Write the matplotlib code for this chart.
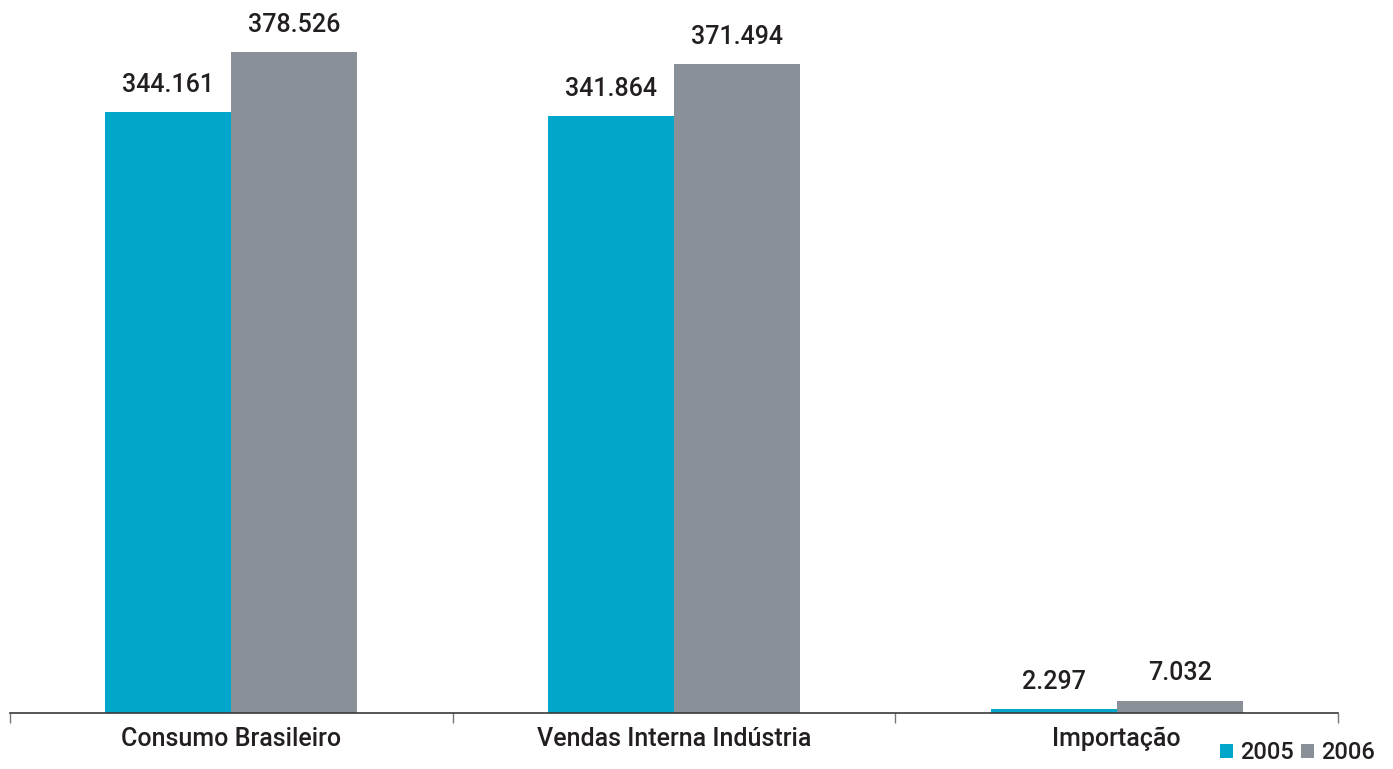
import numpy as np
import matplotlib.pyplot as plt

plt.rcParams['font.family'] = ['Roboto', 'Liberation Sans', 'DejaVu Sans']
plt.rcParams['font.weight'] = 'medium'

categorias = ["Consumo Brasileiro", "Vendas Interna Indústria", "Importação"]
anos = ["2005", "2006"]
valores_2005 = [344.161, 341.864, 2.297]
valores_2006 = [378.526, 371.494, 7.032]
rotulos_2005 = ["344.161", "341.864", "2.297"]
rotulos_2006 = ["378.526", "371.494", "7.032"]

cor_2005 = "#00a7cb"
cor_2006 = "#899097"
cor_texto = "#231f20"

fig = plt.figure(figsize=(13.93, 7.69), dpi=100)
ax = fig.add_axes([10 / 1393, 56 / 769, 1328 / 1393, 713 / 769])

x = np.arange(len(categorias))
largura = 0.285
b1 = ax.bar(x - largura / 2, valores_2005, largura, color=cor_2005, label=anos[0])
b2 = ax.bar(x + largura / 2, valores_2006, largura, color=cor_2006, label=anos[1])

# rótulos de valor acima das barras
for barras, rotulos in [(b1, rotulos_2005), (b2, rotulos_2006)]:
    for b, r in zip(barras, rotulos):
        ax.annotate(r, (b.get_x() + b.get_width() / 2, b.get_height()),
                    xytext=(0, 11), textcoords="offset points",
                    ha="center", va="bottom", fontsize=18, color=cor_texto)

ax.set_xlim(-0.5, len(categorias) - 0.5)
ax.set_ylim(0, 408.3)

for s in ["top", "right", "left"]:
    ax.spines[s].set_visible(False)
ax.spines["bottom"].set_color("#3a3a3a")
ax.spines["bottom"].set_linewidth(1.2)
ax.set_yticks([])

# ticks nas divisas entre categorias, rótulos no centro
ax.set_xticks(np.arange(len(categorias) + 1) - 0.5)
ax.set_xticklabels([])
ax.set_xticks(x, minor=True)
ax.set_xticklabels(categorias, minor=True, fontsize=18, color=cor_texto)
ax.tick_params(axis="x", which="major", length=7, width=1, color="#777777", direction="out")
ax.tick_params(axis="x", which="minor", length=0, pad=10)

fig.legend(loc="lower right", bbox_to_anchor=(0.997, -0.012), ncol=2, frameon=False,
           fontsize=17, handlelength=0.55, handleheight=0.55, handletextpad=0.3,
           columnspacing=0.3, labelcolor=cor_texto, borderaxespad=0.2)

fig.savefig("out.png", dpi=100)
